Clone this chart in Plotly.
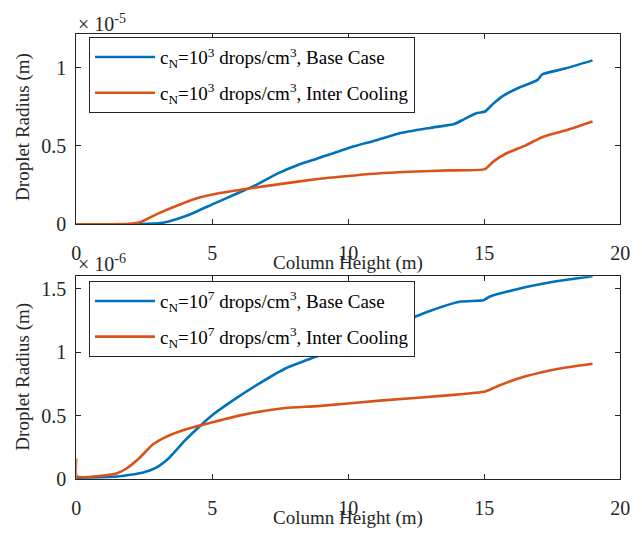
import plotly.graph_objects as go

# Top panel (c_N = 1e3), radius in units of 1e-5 m
x_top_base = [0, 1, 2, 2.4, 3.0, 3.36, 4.08, 5.04, 5.76, 6.48, 7.43, 8.15, 8.87, 10.07, 11.0, 11.86,
              13.0, 13.9, 14.25, 14.73, 15.03, 15.33, 15.69, 16.29, 16.95, 17.13, 17.97, 18.98]
y_top_base = [0, 0, 0, 0.001, 0.006, 0.017, 0.056, 0.13, 0.185, 0.24, 0.327, 0.379, 0.42, 0.49, 0.535, 0.58,
              0.615, 0.64, 0.67, 0.71, 0.72, 0.77, 0.82, 0.873, 0.92, 0.956, 0.994, 1.046]
x_top_ic = [0, 1, 1.93, 2.4, 3.0, 3.72, 4.56, 5.28, 6.36, 7.55, 8.87, 10.0, 11.26, 12.5, 13.65, 15.03,
            15.33, 15.8, 16.52, 17.13, 17.97, 18.98]
y_top_ic = [0, 0, 0.003, 0.017, 0.068, 0.12, 0.172, 0.2, 0.229, 0.258, 0.289, 0.308, 0.327, 0.337, 0.344, 0.352,
            0.4, 0.452, 0.504, 0.556, 0.598, 0.656]

# Bottom panel (c_N = 1e7), radius in units of 1e-6 m
x_bot_base = [0, 0.5, 1.5, 2.43, 2.9, 3.38, 3.98, 4.56, 5.04, 5.76, 6.7, 7.67, 8.63, 10.0, 11.0, 12.1,
              13.05, 14.13, 14.97, 15.21, 16.05, 17.13, 17.97, 18.98]
y_bot_base = [0.01, 0.012, 0.02, 0.05, 0.085, 0.16, 0.3, 0.42, 0.51, 0.62, 0.75, 0.87, 0.95, 1.05, 1.15, 1.25,
              1.33, 1.40, 1.41, 1.44, 1.49, 1.54, 1.57, 1.6]
x_bot_ic = [0, 0.02, 0.9, 1.5, 1.86, 2.34, 2.8, 3.28, 4.0, 5.04, 6.2, 7.67, 8.87, 11.26, 13.65, 15.03,
            15.57, 16.52, 17.73, 18.98]
y_bot_ic = [0.16, 0.02, 0.025, 0.045, 0.085, 0.17, 0.27, 0.33, 0.39, 0.45, 0.51, 0.56, 0.575, 0.62, 0.66, 0.69,
            0.74, 0.81, 0.87, 0.91]

x_ticks = [0, 5, 10, 15, 20]
top_yticks = [0, 0.5, 1]
bot_yticks = [0, 0.5, 1, 1.5]

BLUE = "#0072BD"
ORANGE = "#D95319"
AXC = "#262626"
FONT = "Liberation Serif, DejaVu Serif, serif"
W, H = 642, 537

def line(color):
    return dict(color=color, width=2.6, shape="spline", smoothing=0.5)

fig = go.Figure()
fig.add_trace(go.Scatter(x=x_top_base, y=y_top_base, mode="lines", line=line(BLUE),
                         name="c<sub>N</sub>=10<sup>3</sup> drops/cm<sup>3</sup>, Base Case",
                         xaxis="x", yaxis="y", legend="legend", legendgroup="a"))
fig.add_trace(go.Scatter(x=x_top_ic, y=y_top_ic, mode="lines", line=line(ORANGE),
                         name="c<sub>N</sub>=10<sup>3</sup> drops/cm<sup>3</sup>, Inter Cooling",
                         xaxis="x", yaxis="y", legend="legend", legendgroup="b"))
fig.add_trace(go.Scatter(x=x_bot_base, y=y_bot_base, mode="lines", line=line(BLUE),
                         name="c<sub>N</sub>=10<sup>7</sup> drops/cm<sup>3</sup>, Base Case",
                         xaxis="x2", yaxis="y2", legend="legend2", legendgroup="c"))
fig.add_trace(go.Scatter(x=x_bot_ic, y=y_bot_ic, mode="lines", line=line(ORANGE),
                         name="c<sub>N</sub>=10<sup>7</sup> drops/cm<sup>3</sup>, Inter Cooling",
                         xaxis="x2", yaxis="y2", legend="legend2", legendgroup="d"))

def px(v):
    return v / W

def py(v):
    return 1 - v / H

axis_common = dict(showline=True, linecolor=AXC, linewidth=1, mirror="ticks", ticks="inside",
                   ticklen=5, tickcolor=AXC, showgrid=False, zeroline=False,
                   tickfont=dict(family=FONT, size=20, color=AXC))
xdom = [px(73), px(630)]
leg = dict(xanchor="left", yanchor="top", bgcolor="white", bordercolor=AXC, borderwidth=1,
           font=dict(family=FONT, size=19, color="black"), tracegroupgap=8, itemwidth=60)

fig.update_layout(
    width=W, height=H, margin=dict(l=0, r=0, t=0, b=0),
    paper_bgcolor="white", plot_bgcolor="white",
    font=dict(family=FONT, color=AXC, size=20),
    xaxis=dict(domain=xdom, range=[0, 20], tickvals=x_ticks, anchor="y", ticklabelstandoff=11, **axis_common),
    yaxis=dict(domain=[py(229), py(35)], range=[0, 1.2125], tickvals=top_yticks, anchor="x",
               ticklabelstandoff=5, **axis_common),
    xaxis2=dict(domain=xdom, range=[0, 20], tickvals=x_ticks, anchor="y2", ticklabelstandoff=11, **axis_common),
    yaxis2=dict(domain=[py(489), py(282)], range=[0, 1.6], tickvals=bot_yticks, anchor="x2",
                ticklabelstandoff=5, **axis_common),
    legend=dict(x=px(86), y=py(38), **leg),
    legend2=dict(x=px(86), y=py(287), **leg),
    showlegend=True,
    annotations=[
        dict(text="\u00d7 10<sup>-5</sup>", x=px(73), y=py(38), xref="paper", yref="paper",
             xanchor="left", yanchor="bottom", showarrow=False, font=dict(family=FONT, size=20, color=AXC)),
        dict(text="\u00d7 10<sup>-6</sup>", x=px(73), y=py(283), xref="paper", yref="paper",
             xanchor="left", yanchor="bottom", showarrow=False, font=dict(family=FONT, size=20, color=AXC)),
        dict(text="Column Height (m)", x=px(351.5), y=py(269), xref="paper", yref="paper",
             xanchor="center", yanchor="middle", showarrow=False, font=dict(family=FONT, size=19, color=AXC)),
        dict(text="Column Height (m)", x=px(351.5), y=py(529), xref="paper", yref="paper",
             xanchor="center", yanchor="middle", showarrow=False, font=dict(family=FONT, size=19, color=AXC)),
        dict(text="Droplet Radius (m)", x=px(19), y=py(130), xref="paper", yref="paper", textangle=-90,
             xanchor="center", yanchor="middle", showarrow=False, font=dict(family=FONT, size=19, color=AXC)),
        dict(text="Droplet Radius (m)", x=px(19), y=py(385), xref="paper", yref="paper", textangle=-90,
             xanchor="center", yanchor="middle", showarrow=False, font=dict(family=FONT, size=19, color=AXC)),
    ],
)

fig.write_html("out.html")
